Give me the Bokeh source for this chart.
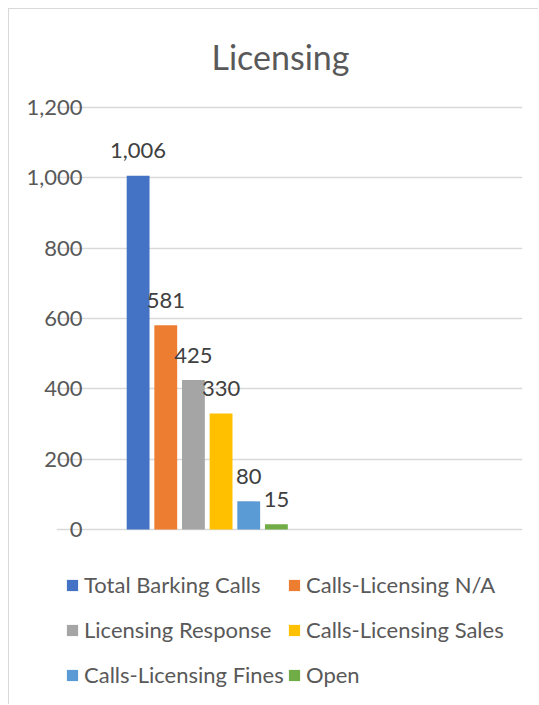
from bokeh.plotting import figure
from bokeh.models import (ColumnDataSource, Legend, LegendItem, FixedTicker,
                          NumeralTickFormatter, Range1d)
from bokeh.transform import dodge
from bokeh.core.properties import value
from bokeh.embed import file_html
from bokeh.resources import INLINE

# ---- data ----
series = ["Total Barking Calls", "Calls-Licensing N/A", "Licensing Response",
          "Calls-Licensing Sales", "Calls-Licensing Fines", "Open"]
values = [1006, 581, 425, 330, 80, 15]
colors = ["#4472C4", "#ED7D31", "#A5A5A5", "#FFC000", "#5B9BD5", "#70AD47"]
y_ticks = [0, 200, 400, 600, 800, 1000, 1200]
y_max = 1200
n_categories = 2          # one populated category slot, one empty
category_pos = 0.5

FONT = "Lato"
TXT = "#595959"

# ---- layout (page pixels) ----
fig_x0, fig_y0 = 9, 9               # 8px margin + 1px border
W, H = 530, 696
plot_left, plot_right = 102, 521    # where the gridlines run
y_top_px, y_zero_px = 107, 529      # pixel rows of 1200 and 0
frame_left = 56
frame_right = fig_x0 + W - 17
frame_top = 100
frame_bottom = fig_y0 + H - 8

px_per_x = (plot_right - plot_left) / n_categories
x_start = -(plot_left - frame_left) / px_per_x
x_end = n_categories + (frame_right - plot_right) / px_per_x
px_per_y = (y_zero_px - y_top_px) / y_max
y_end = y_max + (y_top_px - frame_top) / px_per_y
y_start = -(frame_bottom - y_zero_px) / px_per_y

p = figure(width=W, height=H, output_backend="svg", toolbar_location=None,
           x_range=Range1d(x_start, x_end), y_range=Range1d(y_start, y_end),
           min_border_top=frame_top - fig_y0, min_border_bottom=fig_y0 + H - frame_bottom,
           min_border_left=frame_left - fig_x0, min_border_right=fig_x0 + W - frame_right,
           title="Licensing")
p.styles = {"margin-left": "8px", "margin-top": "8px",
            "border-left": "1px solid #d9d9d9", "border-top": "1px solid #d9d9d9"}
p.outline_line_color = None
p.background_fill_color = "white"
p.border_fill_color = "white"

p.title.text_font = FONT
p.title.text_font_size = "34px"
p.title.text_font_style = "normal"
p.title.text_color = TXT
p.title.align = "left"
p.title.offset = 155
p.title.standoff = 48

p.xaxis.visible = False
p.xgrid.visible = False
p.yaxis.ticker = FixedTicker(ticks=y_ticks)
p.yaxis.formatter = NumeralTickFormatter(format="0,0")
p.yaxis.axis_line_color = None
p.yaxis.major_tick_line_color = None
p.yaxis.minor_tick_line_color = None
p.yaxis.major_tick_out = 0
p.yaxis.major_tick_in = 0
p.yaxis.major_label_text_font = FONT
p.yaxis.major_label_text_font_size = "22px"
p.yaxis.major_label_text_color = TXT
p.yaxis.major_label_standoff = frame_left - 82
p.ygrid.ticker = FixedTicker(ticks=y_ticks)
p.ygrid.bounds = (0, n_categories)
p.ygrid.grid_line_color = "#D9D9D9"
p.ygrid.grid_line_width = 1.6

step = 0.132
bar_w = 0.109
n = len(series)
renderers = []
for i, (name, v, c) in enumerate(zip(series, values, colors)):
    src = ColumnDataSource(dict(x=[category_pos], top=[v], lab=[f"{v:,}"]))
    off = (i - (n - 1) / 2) * step
    r = p.vbar(x=dodge("x", off, range=p.x_range), top="top", bottom=0, width=bar_w,
               source=src, fill_color=c, line_color=None)
    p.text(x=dodge("x", off, range=p.x_range), y="top", text="lab", source=src,
           text_align="center", text_baseline="alphabetic", y_offset=-25,
           text_font=value(FONT), text_font_size="22px", text_color="#404040")
    renderers.append(r)


def make_legend(idx, x):
    items = [LegendItem(label=series[i], renderers=[renderers[i]]) for i in idx]
    return Legend(items=items, orientation="vertical", location=(x, 9),
                  glyph_width=14, glyph_height=14, label_standoff=5,
                  label_text_font=FONT, label_text_font_size="22px",
                  label_text_color=TXT, spacing=18, padding=0, margin=0,
                  border_line_color=None, background_fill_alpha=0)


p.add_layout(make_legend([0, 2, 4], 65 - frame_left), "center")
p.add_layout(make_legend([1, 3, 5], 287 - frame_left), "center")

open("out.html", "w").write(file_html(p, INLINE))
